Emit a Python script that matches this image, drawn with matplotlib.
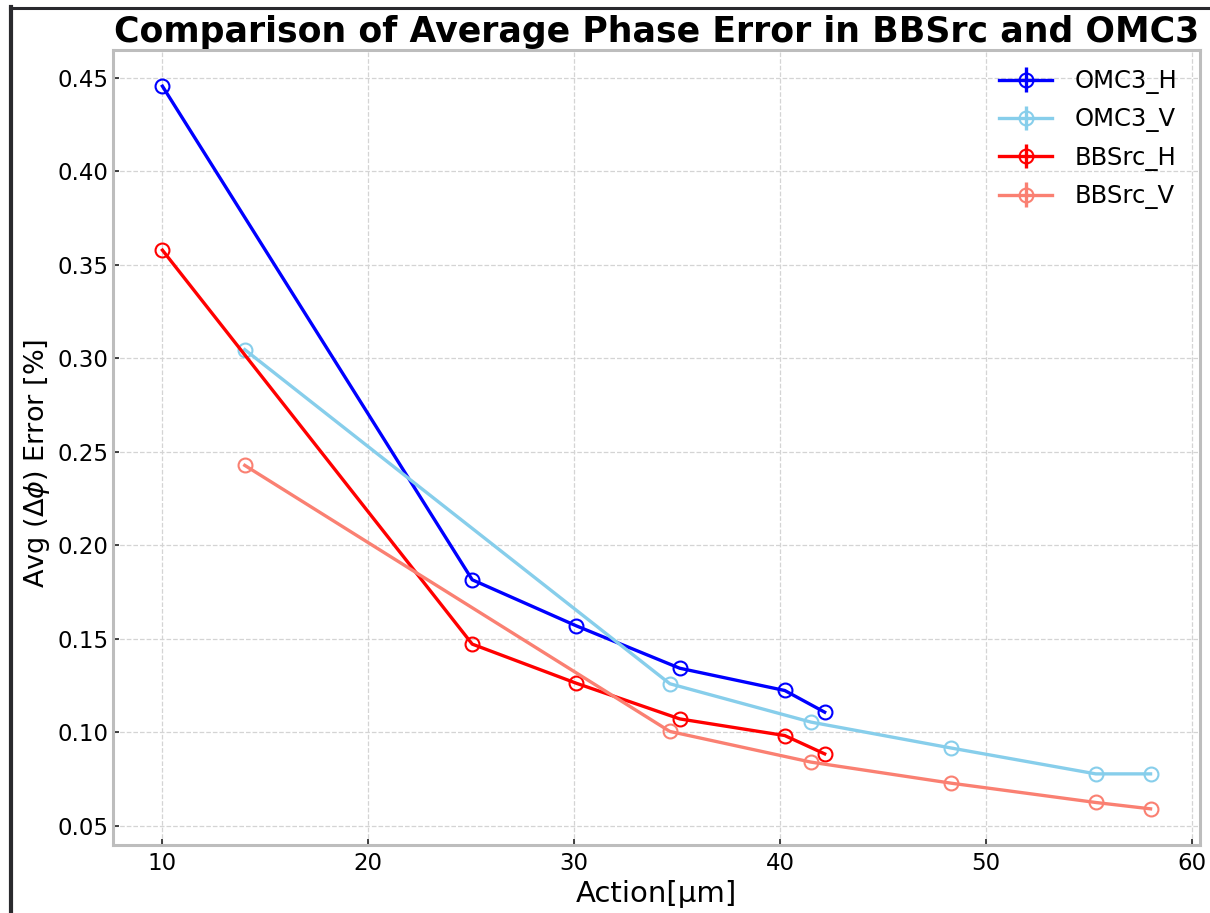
import matplotlib
matplotlib.use("Agg")
import matplotlib.pyplot as plt
from matplotlib.lines import Line2D

# action values [um] and average phase error [%]
action_h = [10.0, 25.05, 30.1, 35.13, 40.23, 42.17]
action_v = [14.0, 34.65, 41.5, 48.33, 55.34, 58.0]

omc3_h = [0.4456, 0.1816, 0.1570, 0.1343, 0.1224, 0.1108]
omc3_v = [0.3047, 0.1260, 0.1055, 0.0916, 0.0778, 0.0778]
bbsrc_h = [0.3579, 0.1472, 0.1263, 0.1072, 0.0983, 0.0885]
bbsrc_v = [0.2428, 0.1005, 0.0841, 0.0728, 0.0625, 0.0591]

err_h = [0.0] * len(action_h)
err_v = [0.0] * len(action_v)

series = [
    ("OMC3_H", action_h, omc3_h, err_h, "blue"),
    ("OMC3_V", action_v, omc3_v, err_v, "skyblue"),
    ("BBSrc_H", action_h, bbsrc_h, err_h, "red"),
    ("BBSrc_V", action_v, bbsrc_v, err_v, "salmon"),
]

fig = plt.figure(figsize=(12.1, 9.13), dpi=100)
ax = fig.add_axes([0.0934, 0.0745, 0.8983, 0.8707])

for name, xs, ys, es, col in series:
    ax.errorbar(xs, ys, yerr=es, fmt="-o", color=col, lw=2.4,
                markersize=10, markerfacecolor="none", markeredgewidth=1.5,
                elinewidth=2.4, label=name)

ax.set_title("Comparison of Average Phase Error in BBSrc and OMC3",
             fontsize=25, fontweight="bold", pad=6)
ax.set_xlabel("Action[μm]", fontsize=21, labelpad=4)
ax.set_ylabel(r"Avg ($\Delta\phi$) Error [%]", fontsize=19.5, labelpad=8)
ax.yaxis.set_label_coords(-0.056, 0.48)

ax.set_xticks([10, 20, 30, 40, 50, 60])
ax.set_yticks([0.05, 0.10, 0.15, 0.20, 0.25, 0.30, 0.35, 0.40, 0.45])
ax.tick_params(axis="both", direction="in", length=4, width=1.2,
               labelsize=16.5, colors="#222222", labelcolor="black", pad=5)
ax.tick_params(axis="y", pad=3)

ax.grid(True, linestyle="--", color="#d4d4d4", linewidth=0.9)
ax.set_axisbelow(True)
for sp in ax.spines.values():
    sp.set_color("#bdbdbd")
    sp.set_linewidth(2.2)

ax.legend(loc="upper right", bbox_to_anchor=(0.9945, 0.9975), frameon=False,
          fontsize=17.5, handlelength=2.2, borderaxespad=0.3,
          labelspacing=0.55, handletextpad=0.9)

# dark frame along the top and left edges
fig.add_artist(Line2D([11.5 / 1210, 11.5 / 1210], [0, 1 - 7 / 913],
                      transform=fig.transFigure, color="#2a2a2e", lw=3))
fig.add_artist(Line2D([10 / 1210, 1], [1 - 8 / 913, 1 - 8 / 913],
                      transform=fig.transFigure, color="#2a2a2e", lw=2.2))

fig.savefig("out.png", dpi=100)
